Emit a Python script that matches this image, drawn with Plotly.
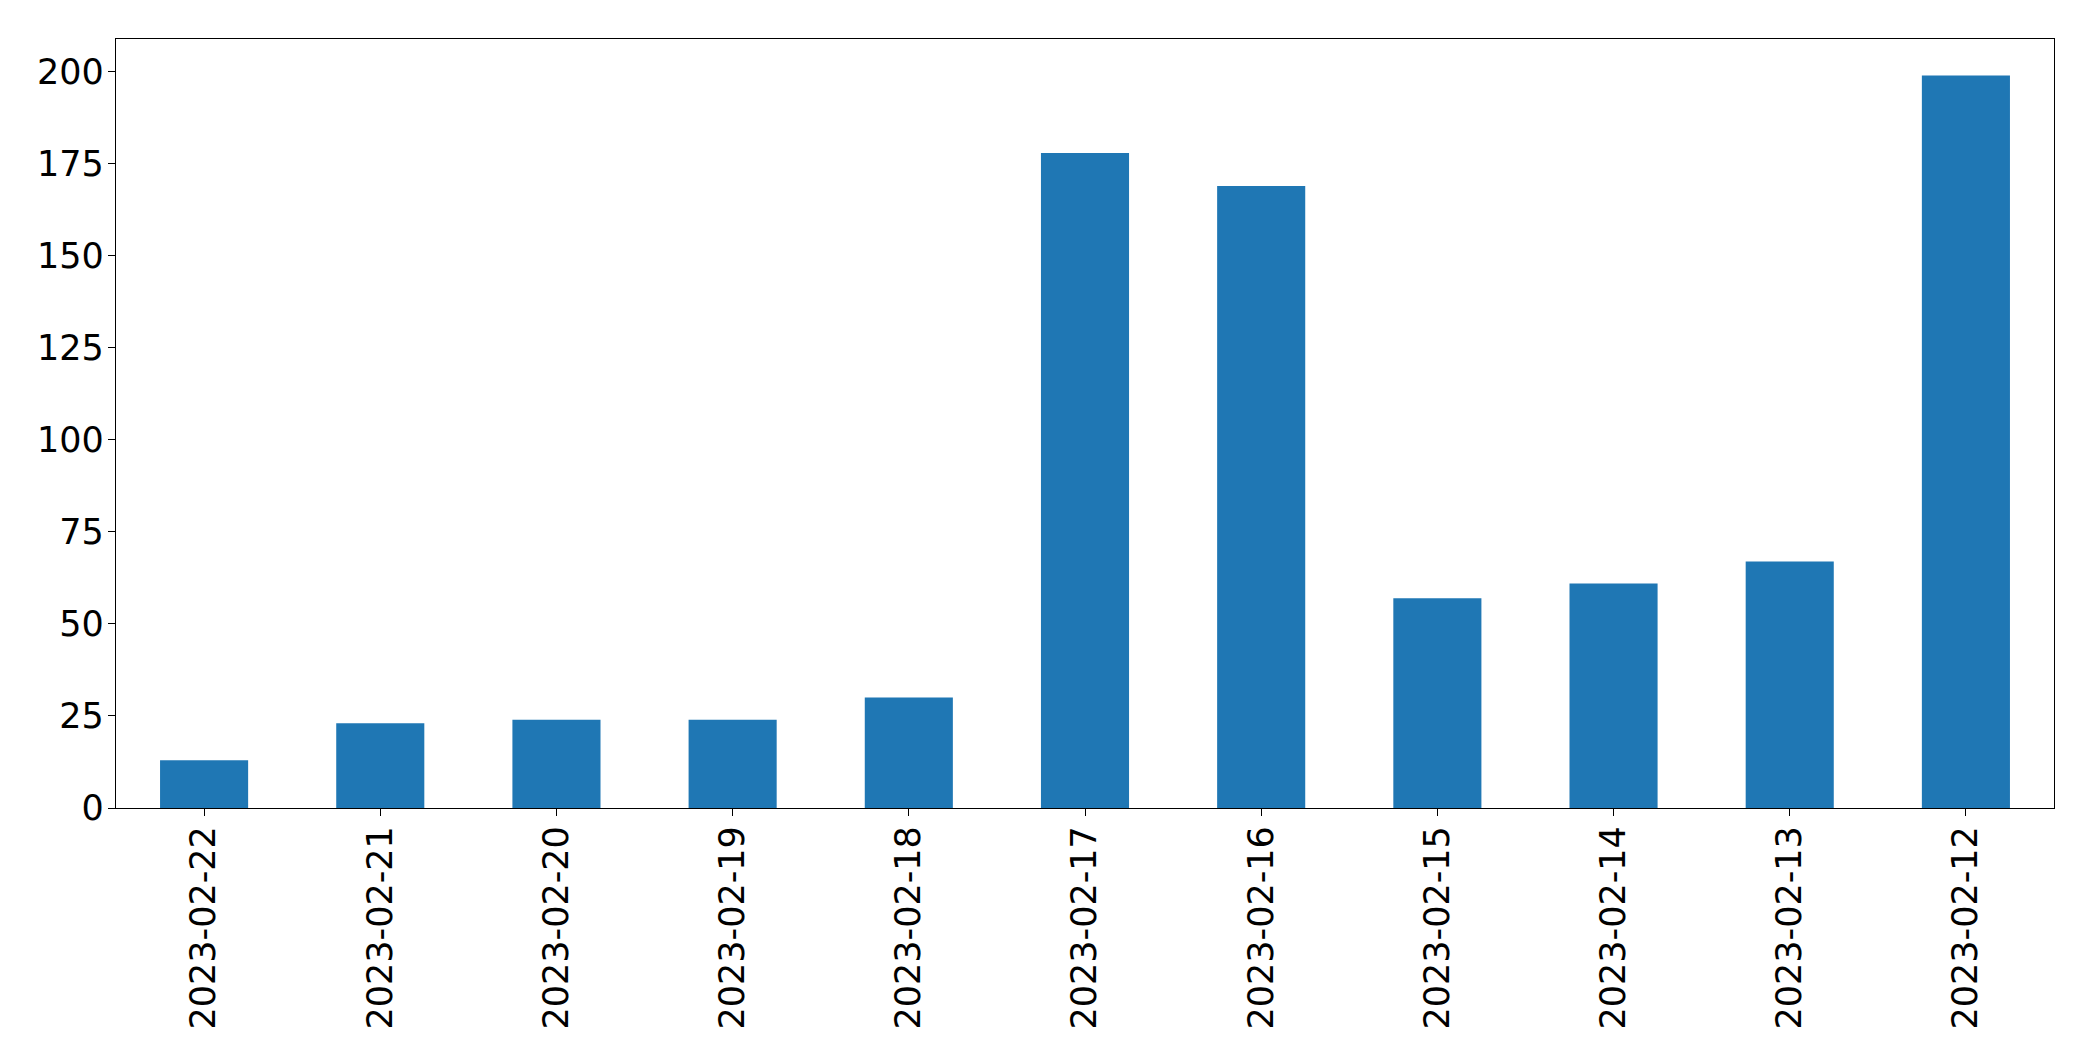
import plotly.graph_objects as go

dates = ["2023-02-22", "2023-02-21", "2023-02-20", "2023-02-19", "2023-02-18",
         "2023-02-17", "2023-02-16", "2023-02-15", "2023-02-14", "2023-02-13",
         "2023-02-12"]
counts = [13, 23, 24, 24, 30, 178, 169, 57, 61, 67, 199]
y_ticks = [0, 25, 50, 75, 100, 125, 150, 175, 200]

fig = go.Figure(go.Bar(x=dates, y=counts, marker=dict(color="#1f77b4", line=dict(width=0)),
                       width=0.5))

font = dict(family="DejaVu Sans", size=35, color="black")
fig.update_layout(
    width=2093, height=1061,
    margin=dict(l=116, r=39, t=39, b=253),
    paper_bgcolor="white", plot_bgcolor="white",
    showlegend=False,
    font=font,
)
fig.update_xaxes(
    type="category", range=[-0.5, len(dates) - 0.5],
    tickangle=-90, tickfont=font, ticklabelstandoff=-4,
    ticks="outside", ticklen=7, tickwidth=1.3, tickcolor="black",
    showline=True, linecolor="black", linewidth=1.3, mirror=True,
    showgrid=False, zeroline=False,
)
fig.update_yaxes(
    range=[0, max(counts) * 1.05],
    tickvals=y_ticks, ticktext=[str(v) for v in y_ticks], tickfont=font,
    ticklabelstandoff=-3,
    ticks="outside", ticklen=7, tickwidth=1.3, tickcolor="black",
    showline=True, linecolor="black", linewidth=1.3, mirror=True,
    showgrid=False, zeroline=False,
)

fig.write_html("out.html")
